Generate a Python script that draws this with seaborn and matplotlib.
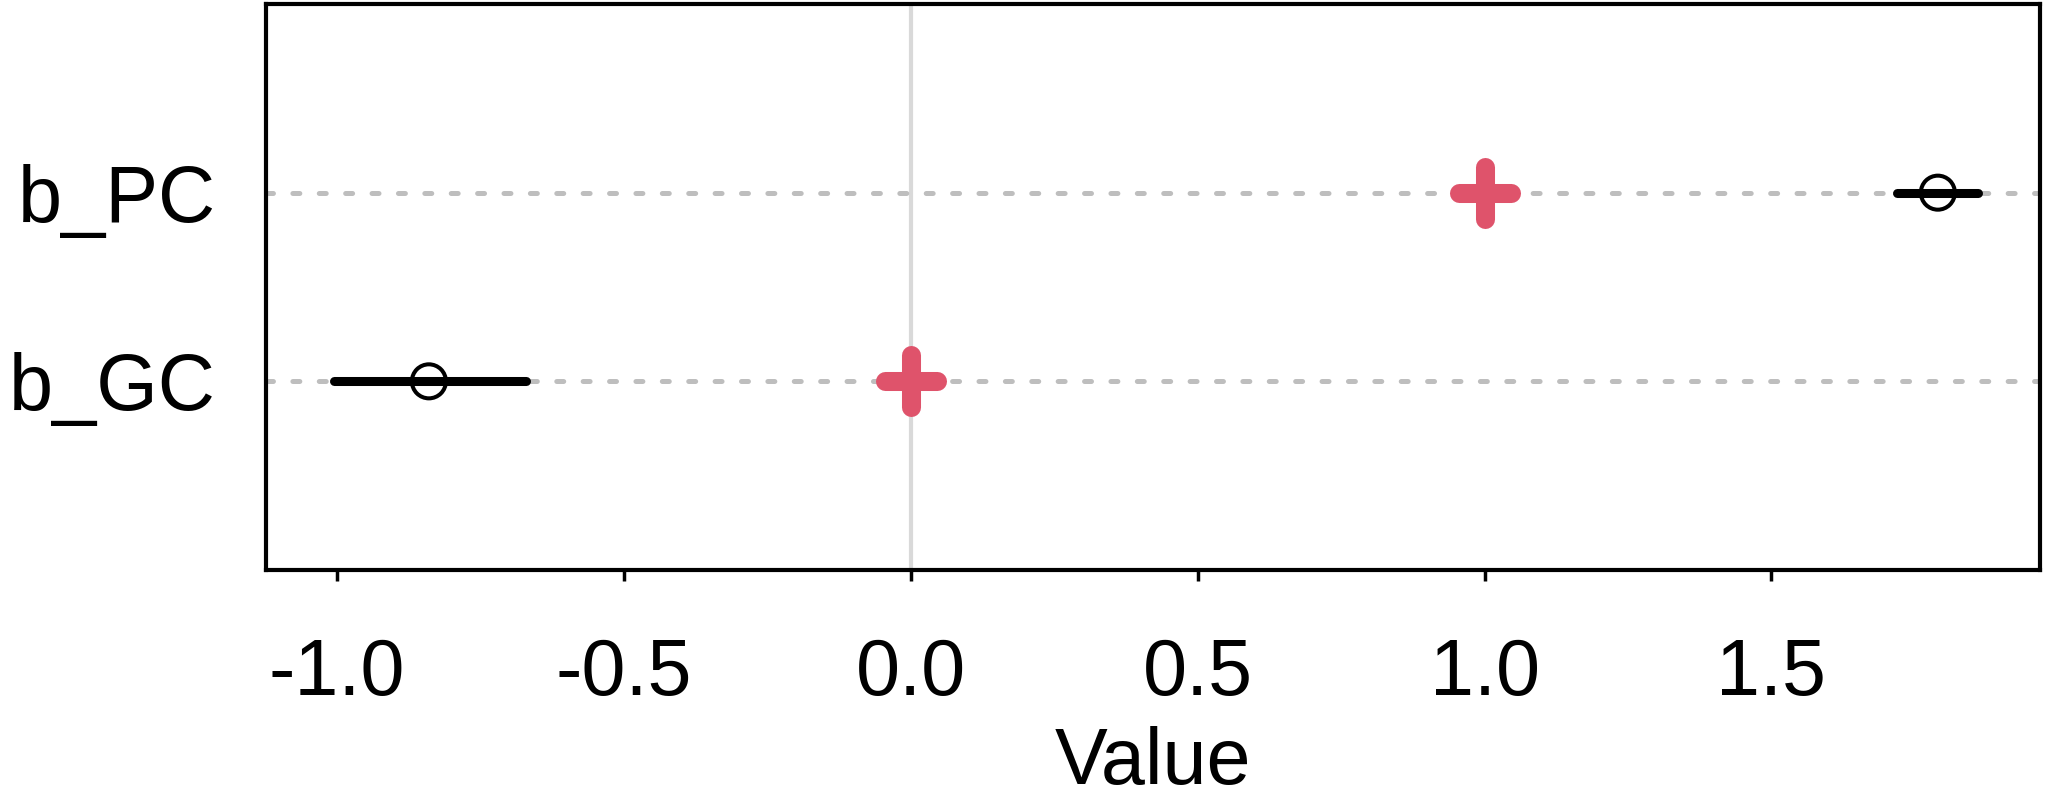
import numpy as np
import pandas as pd
import seaborn as sns
from matplotlib import pyplot as plt

sns.set_style("white")
plt.rcParams['font.family'] = ['Liberation Sans', 'DejaVu Sans']
plt.rcParams['lines.scale_dashes'] = False

# parameter estimates with interval, and the true (reference) values
params = ['b_GC', 'b_PC']
estimate = [-0.84, 1.79]
lower = [-1.005, 1.718]
upper = [-0.67, 1.86]
true_value = [0.0, 1.0]
x_ticks = [-1.0, -0.5, 0.0, 0.5, 1.0, 1.5]
x_ticklabels = ['-1.0', '-0.5', '0.0', '0.5', '1.0', '1.5']

df = pd.DataFrame({'param': params, 'est': estimate, 'lo': lower,
                   'hi': upper, 'true': true_value})

fig = plt.figure(figsize=(20.49, 7.96), dpi=100)
ax = fig.add_axes([0.1298, 0.2839, 0.9956 - 0.1298, 0.995 - 0.2839])

ax.axvline(0, color='#D9D9D9', lw=3, zorder=1)

ax.hlines(df['param'], df['lo'], df['hi'], colors='black', lw=6.5,
          capstyle='round', zorder=3)
sns.scatterplot(data=df, x='est', y='param', marker='o', s=600,
                facecolor='none', edgecolor='black', linewidth=2.9,
                zorder=4, ax=ax)
sns.scatterplot(data=df, x='true', y='param', marker='+', s=37**2,
                color='#DF536B', linewidth=13.7, capstyle='round',
                zorder=5, ax=ax)

ax.set_xlim(-1.124, 1.968)
ax.set_ylim(-1, 2)
ax.hlines(df['param'], *ax.get_xlim(), colors='#BEBEBE', lw=3.6,
          linestyles=(0, (5, 14)), capstyle='round', zorder=1)
ax.set_xlim(-1.124, 1.968)

ax.set_xticks(x_ticks)
ax.set_xticklabels(x_ticklabels)
ax.tick_params(axis='x', bottom=True, length=8, width=2.5, color='black',
               pad=40, labelsize=57, labelcolor='black')
ax.tick_params(axis='y', left=False, length=0, pad=36, labelsize=57,
               labelcolor='black')
for s in ax.spines.values():
    s.set_color('black')
    s.set_linewidth(3)

ax.set_xlabel('Value', fontsize=57, labelpad=10, color='black')
ax.set_ylabel('')

fig.savefig('out.png', dpi=100, facecolor='white')
